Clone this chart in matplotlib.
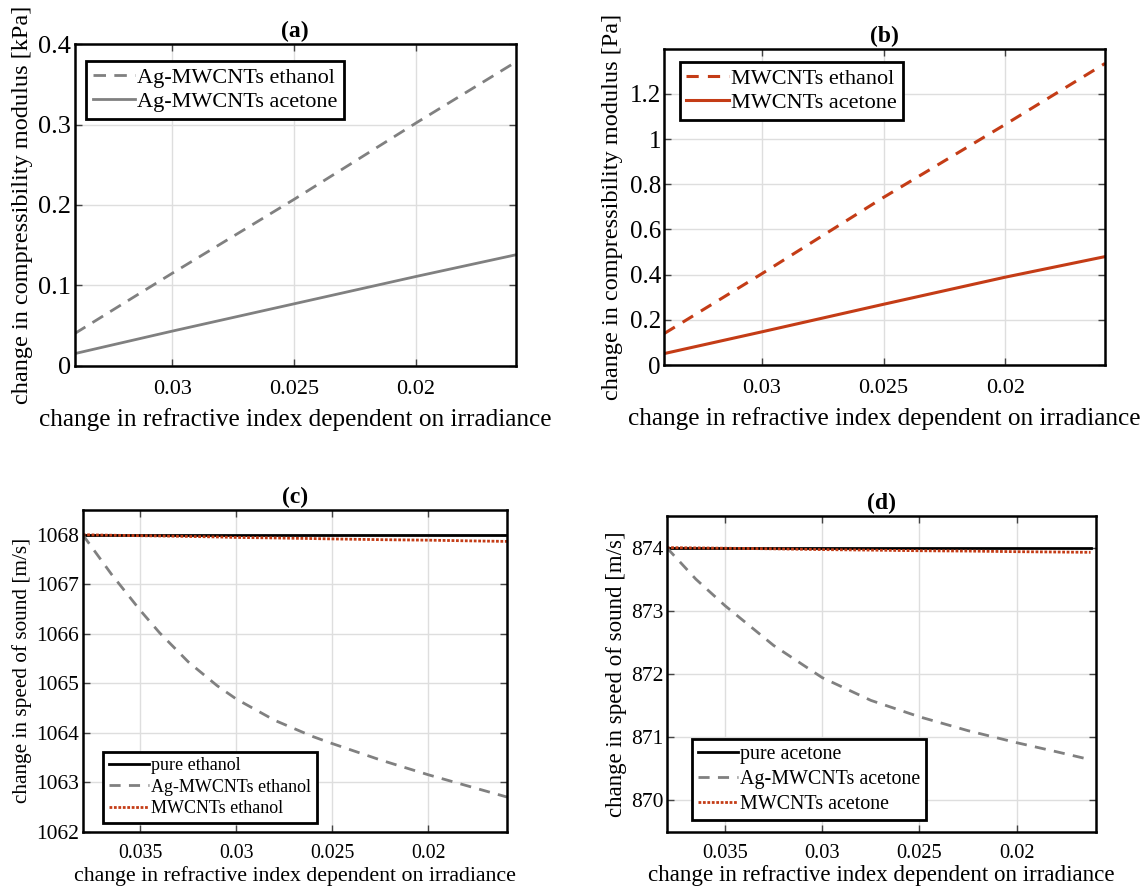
import matplotlib as mpl
mpl.use('Agg')
import matplotlib.pyplot as plt
import numpy as np

mpl.rcParams['font.family'] = ['Liberation Serif', 'DejaVu Serif']

# --- data ---
# top panels: compressibility modulus vs refractive index change
x_top = [0.034, 0.030, 0.025, 0.020, 0.0159]
agmw_ethanol_K = [0.040, 0.115, 0.207, 0.302, 0.378]   # kPa
agmw_acetone_K = [0.015, 0.043, 0.077, 0.111, 0.138]   # kPa
mw_ethanol_K = [0.140, 0.404, 0.742, 1.065, 1.335]     # Pa
mw_acetone_K = [0.051, 0.147, 0.269, 0.389, 0.480]     # Pa

# bottom-left: speed of sound in ethanol
x_eth = [0.038, 0.0365, 0.035, 0.034, 0.0325, 0.031, 0.030, 0.028,
         0.026, 0.025, 0.0225, 0.020, 0.018, 0.0159]
pure_ethanol_v = [1068.0] * len(x_eth)
agmw_ethanol_v = [1068.0, 1067.2, 1066.47, 1066.02, 1065.43, 1064.95, 1064.68, 1064.25,
                  1063.92, 1063.78, 1063.45, 1063.15, 1062.93, 1062.70]
mw_ethanol_v = [1068.0, 1067.99, 1067.98, 1067.975, 1067.965, 1067.955, 1067.945,
                1067.935, 1067.922, 1067.915, 1067.90, 1067.89, 1067.877, 1067.865]

# bottom-right: speed of sound in acetone
x_ace = [0.038, 0.0365, 0.035, 0.0325, 0.030, 0.0275,
         0.025, 0.0225, 0.020, 0.018, 0.0162]
pure_acetone_v = [874.0] * len(x_ace)
agmw_acetone_v = [874.0, 873.5, 873.08, 872.45, 871.94, 871.58,
                  871.32, 871.1, 870.91, 870.77, 870.64]
mw_acetone_v = [874.0, 873.995, 873.99, 873.98, 873.968, 873.96,
                873.95, 873.945, 873.935, 873.93, 873.925]

gray = '#808080'
red = '#C43C16'

fig = plt.figure(figsize=(11.41, 8.88), dpi=100)
fig.patch.set_facecolor('w')

ax_a = fig.add_axes([0.0655, 0.5882, 0.3866, 0.3619])
ax_b = fig.add_axes([0.5823, 0.5889, 0.3862, 0.3562])
ax_c = fig.add_axes([0.0725, 0.0634, 0.3719, 0.3623])
ax_d = fig.add_axes([0.5843, 0.0634, 0.3766, 0.3555])


def style(ax, title, xlabel, ylabel, xfs, yfs, xlfs, ylfs, xtpad, xpad, ypad):
    ax.grid(True, color='#dedede', linewidth=1.0)
    ax.set_axisbelow(True)
    ax.tick_params(direction='in', top=True, right=True, length=5, width=1.0,
                   color='#444444')
    ax.tick_params(axis='x', labelsize=xfs, pad=xtpad)
    ax.tick_params(axis='y', labelsize=yfs, pad=2.5)
    for s in ax.spines.values():
        s.set_linewidth(1.8)
        s.set_color('black')
    ax.set_title(title, fontsize=17, fontweight='bold', pad=5)
    ax.set_xlabel(xlabel, fontsize=xlfs, labelpad=xpad)
    ax.set_ylabel(ylabel, fontsize=ylfs, labelpad=ypad)


def legend(ax, loc, anchor, fs, hl, ls):
    leg = ax.legend(loc=loc, bbox_to_anchor=anchor, fontsize=fs, fancybox=False,
                    framealpha=1, edgecolor='black', borderaxespad=0,
                    handlelength=hl, handletextpad=0.1, borderpad=0.3,
                    labelspacing=ls)
    leg.get_frame().set_linewidth(2.0)


xlab = 'change in refractive index dependent on irradiance'

# (a)
ax_a.plot(x_top, agmw_ethanol_K, color=gray, lw=2, dashes=(4.5, 3), label='Ag-MWCNTs ethanol')
ax_a.plot(x_top, agmw_acetone_K, color=gray, lw=2, label='Ag-MWCNTs acetone')
ax_a.set_xlim(0.034, 0.0159)
ax_a.set_ylim(0, 0.4)
ax_a.set_xticks([0.03, 0.025, 0.02])
ax_a.set_xticklabels(['0.03', '0.025', '0.02'])
ax_a.set_yticks([0, 0.1, 0.2, 0.3, 0.4])
ax_a.set_yticklabels(['0', '0.1', '0.2', '0.3', '0.4'])
style(ax_a, '(a)', xlab, 'change in compressibility modulus [kPa]', 16, 19, 18.2, 17.5, 10, 6.5, 4)
legend(ax_a, 'upper left', (0.026, 0.948), 16, 1.9, 0.15)

# (b)
ax_b.plot(x_top, mw_ethanol_K, color=red, lw=2.2, dashes=(4, 3), label='MWCNTs ethanol')
ax_b.plot(x_top, mw_acetone_K, color=red, lw=2.2, label='MWCNTs acetone')
ax_b.set_xlim(0.034, 0.0159)
ax_b.set_ylim(0, 1.4)
ax_b.set_xticks([0.03, 0.025, 0.02])
ax_b.set_xticklabels(['0.03', '0.025', '0.02'])
ax_b.set_yticks([0, 0.2, 0.4, 0.6, 0.8, 1.0, 1.2])
ax_b.set_yticklabels(['0', '0.2', '0.4', '0.6', '0.8', '1', '1.2'])
style(ax_b, '(b)', xlab, 'change in compressibility modulus [Pa]', 16, 18, 18.2, 17.5, 10, 6.5, 4.5)
legend(ax_b, 'upper left', (0.035, 0.958), 16, 1.9, 0.15)

# (c)
ax_c.plot(x_eth, pure_ethanol_v, color='black', lw=2, label='pure ethanol')
ax_c.plot(x_eth, agmw_ethanol_v, color=gray, lw=2, dashes=(4, 3), label='Ag-MWCNTs ethanol')
ax_c.plot(x_eth, mw_ethanol_v, color=red, lw=2, linestyle=(0, (1, 0.6)), label='MWCNTs ethanol')
ax_c.set_xlim(0.038, 0.0159)
ax_c.set_ylim(1062, 1068.5)
ax_c.set_xticks([0.035, 0.03, 0.025, 0.02])
ax_c.set_xticklabels(['0.035', '0.03', '0.025', '0.02'])
ax_c.set_yticks([1062, 1063, 1064, 1065, 1066, 1067, 1068])
style(ax_c, '(c)', xlab, 'change in speed of sound [m/s]', 14.2, 15.5, 15.7, 15.3, 8.5, 2.5, 3)
legend(ax_c, 'lower left', (0.0486, 0.028), 13, 2.25, 0.25)

# (d)
ax_d.plot(x_ace, pure_acetone_v, color='black', lw=2, label='pure acetone')
ax_d.plot(x_ace, agmw_acetone_v, color=gray, lw=2, dashes=(4, 3), label='Ag-MWCNTs acetone')
ax_d.plot(x_ace, mw_acetone_v, color=red, lw=2, linestyle=(0, (1, 0.6)), label='MWCNTs acetone')
ax_d.set_xlim(0.038, 0.0159)
ax_d.set_ylim(869.5, 874.5)
ax_d.set_xticks([0.035, 0.03, 0.025, 0.02])
ax_d.set_xticklabels(['0.035', '0.03', '0.025', '0.02'])
ax_d.set_yticks([870, 871, 872, 873, 874])
style(ax_d, '(d)', xlab, 'change in speed of sound [m/s]', 14.7, 15.5, 16.6, 16.5, 8.5, 2, 3)
legend(ax_d, 'lower left', (0.058, 0.037), 14.4, 2.0, 0.3)

plt.savefig('out.png', dpi=100, facecolor=fig.get_facecolor(), edgecolor='none')
